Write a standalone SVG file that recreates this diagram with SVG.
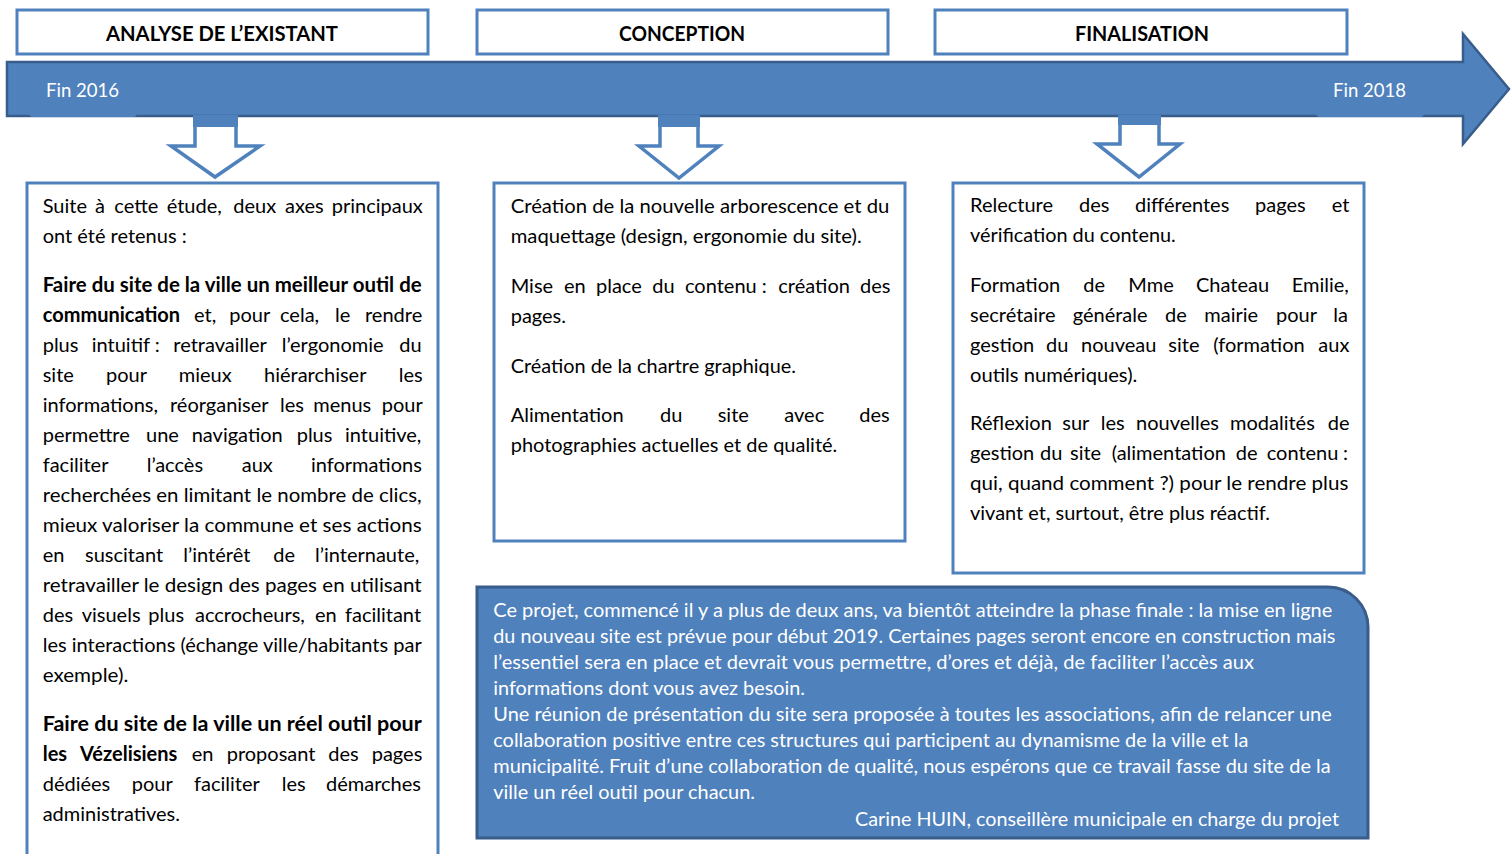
<svg xmlns="http://www.w3.org/2000/svg" width="1512" height="854" viewBox="0 0 1512 854">
<style>
.hdr{fill:#fff;stroke:#4f81bd;stroke-width:3}
.box{fill:#fff;stroke:#4f81bd;stroke-width:3}
.darr{fill:#fff;stroke:#4f81bd;stroke-width:3.5;stroke-linejoin:miter}
.blk{fill:#4f81bd}
.t{font-family:Lato,"Open Sans","Liberation Sans",sans-serif;font-size:20px;fill:#000}
.h{font-family:Lato,"Open Sans","Liberation Sans",sans-serif;font-size:21px;font-weight:bold;fill:#000}
.b{font-weight:bold}
.w{fill:#fff}
</style>
<rect width="1512" height="854" fill="#fff"/>

<g id="timeline">
<polygon points="7,62 1463,62 1463,34 1509,89 1463,144 1463,116 7,116" fill="#4f81bd" stroke="#385d8a" stroke-width="2.5"/>
<rect x="29" y="107" width="108" height="10" rx="4" fill="#4f81bd"/>
<rect x="1316" y="107" width="108" height="10" rx="4" fill="#4f81bd"/>
<text class="t w" x="46" y="97" textLength="73" lengthAdjust="spacingAndGlyphs">Fin 2016</text>
<text class="t w" x="1333" y="97" textLength="73" lengthAdjust="spacingAndGlyphs">Fin 2018</text>
</g>

<g id="header-analyse">
<rect class="hdr" x="17" y="10" width="411" height="44"/>
<text class="h" x="106" y="41" textLength="232" lengthAdjust="spacingAndGlyphs">ANALYSE DE L’EXISTANT</text>
</g>
<g id="header-conception">
<rect class="hdr" x="477" y="10" width="411" height="44"/>
<text class="h" x="619" y="41" textLength="126" lengthAdjust="spacingAndGlyphs">CONCEPTION</text>
</g>
<g id="header-finalisation">
<rect class="hdr" x="935" y="10" width="412" height="44"/>
<text class="h" x="1075" y="41" textLength="134" lengthAdjust="spacingAndGlyphs">FINALISATION</text>
</g>

<g id="connectors">
<polygon class="darr" points="195,118 236,118 236,146 260,146 215,177 171,146 195,146"/>
<rect class="blk" x="193" y="115" width="45" height="12"/>
<polygon class="darr" points="660,118 698,118 698,146 719,146 679,178 639,146 660,146"/>
<rect class="blk" x="658" y="115" width="42" height="12"/>
<polygon class="darr" points="1120,118 1159,118 1159,144 1180,144 1139,177 1097,144 1120,144"/>
<rect class="blk" x="1118" y="115" width="43" height="10"/>
</g>

<g id="box-analyse">
<rect class="box" x="27" y="183" width="411" height="690"/>
<text class="t" y="213"><tspan x="42.7">Suite</tspan><tspan x="95">à</tspan><tspan x="114.3">cette</tspan><tspan x="166.7">étude,</tspan><tspan x="233.3">deux</tspan><tspan x="285">axes</tspan><tspan x="331.7">principaux</tspan></text>
<text class="t" x="42.7" y="243" textLength="144" lengthAdjust="spacingAndGlyphs">ont été retenus :</text>
<text class="t b" x="42.7" y="292" textLength="379" lengthAdjust="spacingAndGlyphs">Faire du site de la ville un meilleur outil de</text>
<text class="t" y="322"><tspan x="42.7" class="b">communication</tspan><tspan x="194">et,</tspan><tspan x="229.3">pour</tspan><tspan x="280">cela,</tspan><tspan x="335">le</tspan><tspan x="365">rendre</tspan></text>
<text class="t" y="352"><tspan x="42.7">plus</tspan><tspan x="91.7">intuitif :</tspan><tspan x="173.3">retravailler</tspan><tspan x="281.7">l’ergonomie</tspan><tspan x="399.3">du</tspan></text>
<text class="t" y="382"><tspan x="42.7">site</tspan><tspan x="106">pour</tspan><tspan x="178.7">mieux</tspan><tspan x="264">hiérarchiser</tspan><tspan x="398.7">les</tspan></text>
<text class="t" y="412"><tspan x="42.7">informations,</tspan><tspan x="170">réorganiser</tspan><tspan x="280">les</tspan><tspan x="313.3">menus</tspan><tspan x="381.7">pour</tspan></text>
<text class="t" y="442"><tspan x="42.7">permettre</tspan><tspan x="146">une</tspan><tspan x="191.7">navigation</tspan><tspan x="296.7">plus</tspan><tspan x="345">intuitive,</tspan></text>
<text class="t" y="472"><tspan x="42.7">faciliter</tspan><tspan x="146.7">l’accès</tspan><tspan x="241.7">aux</tspan><tspan x="311">informations</tspan></text>
<text class="t" x="42.7" y="502" textLength="379" lengthAdjust="spacingAndGlyphs">recherchées en limitant le nombre de clics,</text>
<text class="t" x="42.7" y="532" textLength="379" lengthAdjust="spacingAndGlyphs">mieux valoriser la commune et ses actions</text>
<text class="t" y="562"><tspan x="42.7">en</tspan><tspan x="85">suscitant</tspan><tspan x="183.3">l’intérêt</tspan><tspan x="273.3">de</tspan><tspan x="315">l’internaute,</tspan></text>
<text class="t" x="42.7" y="592" textLength="379" lengthAdjust="spacingAndGlyphs">retravailler le design des pages en utilisant</text>
<text class="t" y="622"><tspan x="42.7">des</tspan><tspan x="81.7">visuels</tspan><tspan x="148.3">plus</tspan><tspan x="195">accrocheurs,</tspan><tspan x="315">en</tspan><tspan x="345">facilitant</tspan></text>
<text class="t" x="42.7" y="652" textLength="379" lengthAdjust="spacingAndGlyphs">les interactions (échange ville/habitants par</text>
<text class="t" x="42.7" y="682" textLength="85.6" lengthAdjust="spacingAndGlyphs">exemple).</text>
<text class="t b" x="42.7" y="731" textLength="379" lengthAdjust="spacingAndGlyphs">Faire du site de la ville un réel outil pour</text>
<text class="t" y="761"><tspan x="42.7" class="b">les</tspan><tspan x="80" class="b">Vézelisiens</tspan><tspan x="191.7">en</tspan><tspan x="226.7">proposant</tspan><tspan x="328.3">des</tspan><tspan x="371.7">pages</tspan></text>
<text class="t" y="791"><tspan x="42.7">dédiées</tspan><tspan x="131.7">pour</tspan><tspan x="194">faciliter</tspan><tspan x="281.7">les</tspan><tspan x="326">démarches</tspan></text>
<text class="t" x="42.7" y="821" textLength="137.3" lengthAdjust="spacingAndGlyphs">administratives.</text>
</g>

<g id="box-conception">
<rect class="box" x="494" y="183" width="411" height="358"/>
<text class="t" x="510.7" y="213" textLength="378.6" lengthAdjust="spacingAndGlyphs">Création de la nouvelle arborescence et du</text>
<text class="t" x="510.7" y="243" textLength="351" lengthAdjust="spacingAndGlyphs">maquettage (design, ergonomie du site).</text>
<text class="t" y="293"><tspan x="510.7">Mise</tspan><tspan x="564">en</tspan><tspan x="596">place</tspan><tspan x="652.3">du</tspan><tspan x="685">contenu :</tspan><tspan x="778.3">création</tspan><tspan x="860">des</tspan></text>
<text class="t" x="510.7" y="323" textLength="55.3" lengthAdjust="spacingAndGlyphs">pages.</text>
<text class="t" x="510.7" y="373" textLength="285.3" lengthAdjust="spacingAndGlyphs">Création de la chartre graphique.</text>
<text class="t" y="422"><tspan x="510.7">Alimentation</tspan><tspan x="660">du</tspan><tspan x="717.7">site</tspan><tspan x="784.3">avec</tspan><tspan x="859.3">des</tspan></text>
<text class="t" x="510.7" y="452" textLength="326.6" lengthAdjust="spacingAndGlyphs">photographies actuelles et de qualité.</text>
</g>

<g id="box-finalisation">
<rect class="box" x="953" y="183" width="411" height="390"/>
<text class="t" y="212"><tspan x="970">Relecture</tspan><tspan x="1079">des</tspan><tspan x="1135">différentes</tspan><tspan x="1255">pages</tspan><tspan x="1331.7">et</tspan></text>
<text class="t" x="970" y="242" textLength="205.7" lengthAdjust="spacingAndGlyphs">vérification du contenu.</text>
<text class="t" y="292"><tspan x="970">Formation</tspan><tspan x="1083.3">de</tspan><tspan x="1128.3">Mme</tspan><tspan x="1196">Chateau</tspan><tspan x="1291.7">Emilie,</tspan></text>
<text class="t" y="322"><tspan x="970">secrétaire</tspan><tspan x="1072.7">générale</tspan><tspan x="1165">de</tspan><tspan x="1204.3">mairie</tspan><tspan x="1276">pour</tspan><tspan x="1333.3">la</tspan></text>
<text class="t" y="352"><tspan x="970">gestion</tspan><tspan x="1046">du</tspan><tspan x="1081">nouveau</tspan><tspan x="1168.3">site</tspan><tspan x="1213.3">(formation</tspan><tspan x="1318.3">aux</tspan></text>
<text class="t" x="970" y="382" textLength="167.3" lengthAdjust="spacingAndGlyphs">outils numériques).</text>
<text class="t" y="430"><tspan x="970">Réflexion</tspan><tspan x="1062.3">sur</tspan><tspan x="1100.7">les</tspan><tspan x="1136">nouvelles</tspan><tspan x="1230">modalités</tspan><tspan x="1327.7">de</tspan></text>
<text class="t" y="460"><tspan x="970">gestion</tspan><tspan x="1040">du</tspan><tspan x="1070">site</tspan><tspan x="1111.7">(alimentation</tspan><tspan x="1235.7">de</tspan><tspan x="1266.7">contenu</tspan><tspan x="1343">:</tspan></text>
<text class="t" x="970" y="490" textLength="378.3" lengthAdjust="spacingAndGlyphs">qui, quand comment ?) pour le rendre plus</text>
<text class="t" x="970" y="520" textLength="300" lengthAdjust="spacingAndGlyphs">vivant et, surtout, être plus réactif.</text>
</g>

<g id="box-conclusion">
<path d="M477,587 H1328 A40,40 0 0 1 1368,627 V838 H477 Z" fill="#4f81bd" stroke="#385d8a" stroke-width="3"/>
<text class="t w" x="493.3" y="617" textLength="839" lengthAdjust="spacingAndGlyphs">Ce projet, commencé il y a plus de deux ans, va bientôt atteindre la phase finale : la mise en ligne</text>
<text class="t w" x="493.3" y="643" textLength="842" lengthAdjust="spacingAndGlyphs">du nouveau site est prévue pour début 2019. Certaines pages seront encore en construction mais</text>
<text class="t w" x="493.3" y="669" textLength="760.7" lengthAdjust="spacingAndGlyphs">l’essentiel sera en place et devrait vous permettre, d’ores et déjà, de faciliter l’accès aux</text>
<text class="t w" x="493.3" y="695" textLength="311.7" lengthAdjust="spacingAndGlyphs">informations dont vous avez besoin.</text>
<text class="t w" x="493.3" y="721" textLength="838.4" lengthAdjust="spacingAndGlyphs">Une réunion de présentation du site sera proposée à toutes les associations, afin de relancer une</text>
<text class="t w" x="493.3" y="747" textLength="755" lengthAdjust="spacingAndGlyphs">collaboration positive entre ces structures qui participent au dynamisme de la ville et la</text>
<text class="t w" x="493.3" y="773" textLength="837.4" lengthAdjust="spacingAndGlyphs">municipalité. Fruit d’une collaboration de qualité, nous espérons que ce travail fasse du site de la</text>
<text class="t w" x="493.3" y="799" textLength="261.7" lengthAdjust="spacingAndGlyphs">ville un réel outil pour chacun.</text>
<text class="t w" x="855" y="826" textLength="484" lengthAdjust="spacingAndGlyphs">Carine HUIN, conseillère municipale en charge du projet</text>
</g>
</svg>
